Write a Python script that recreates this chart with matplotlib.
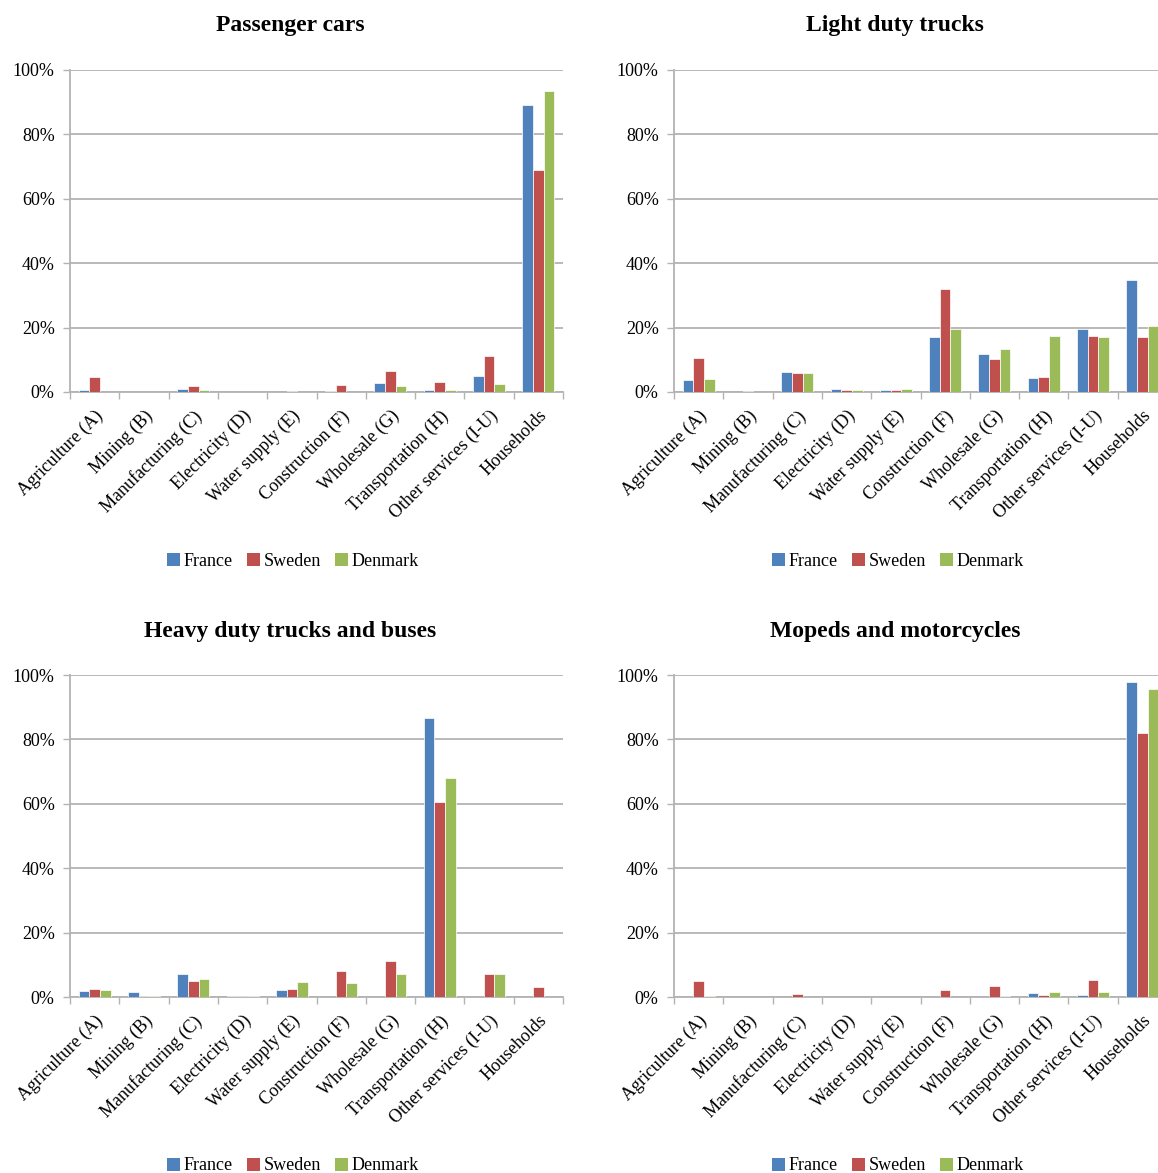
import matplotlib
matplotlib.use("Agg")
import matplotlib.pyplot as plt
import numpy as np
from matplotlib.patches import Patch

plt.rcParams['font.family'] = ['Liberation Serif', 'DejaVu Serif']

categories = ["Agriculture (A)", "Mining (B)", "Manufacturing (C)", "Electricity (D)",
              "Water supply (E)", "Construction (F)", "Wholesale (G)",
              "Transportation (H)", "Other services (I-U)", "Households"]
series = ["France", "Sweden", "Denmark"]
colors = ["#4F81BD", "#C0504D", "#9BBB59"]

titles = ["Passenger cars", "Light duty trucks", "Heavy duty trucks and buses", "Mopeds and motorcycles"]

# values in percent
passenger_france = [0.5, 0.0, 0.9, 0.0, 0.0, 0.2, 2.9, 0.5, 4.9, 89.1]
passenger_sweden = [4.8, 0.0, 2.0, 0.0, 0.2, 2.1, 6.4, 3.1, 11.3, 68.9]
passenger_denmark = [0.0, 0.0, 0.5, 0.0, 0.0, 0.1, 2.0, 0.7, 2.4, 93.5]

light_france = [3.6, 0.0, 6.3, 0.9, 0.6, 17.1, 11.7, 4.5, 19.6, 34.9]
light_sweden = [10.6, 0.2, 6.0, 0.6, 0.6, 32.0, 10.2, 4.7, 17.4, 17.1]
light_denmark = [4.0, 0.0, 6.0, 0.5, 0.9, 19.5, 13.3, 17.3, 17.1, 20.6]

heavy_france = [1.9, 1.7, 7.2, 0.2, 2.3, 0.0, 0.1, 86.6, 0.0, 0.0]
heavy_sweden = [2.6, 0.2, 4.9, 0.2, 2.5, 8.0, 11.1, 60.6, 7.0, 3.0]
heavy_denmark = [2.2, 0.2, 5.7, 0.3, 4.8, 4.3, 7.1, 68.0, 7.2, 0.0]

moped_france = [0.0, 0.0, 0.0, 0.0, 0.0, 0.0, 0.0, 1.1, 0.7, 97.8]
moped_sweden = [5.1, 0.1, 0.8, 0.0, 0.1, 2.3, 3.4, 0.5, 5.2, 82.0]
moped_denmark = [0.2, 0.0, 0.1, 0.0, 0.0, 0.0, 0.2, 1.6, 1.7, 95.7]

panels = [
    [passenger_france, passenger_sweden, passenger_denmark],
    [light_france, light_sweden, light_denmark],
    [heavy_france, heavy_sweden, heavy_denmark],
    [moped_france, moped_sweden, moped_denmark],
]

W, H = 1158, 1173
fig = plt.figure(figsize=(W / 100, H / 100), dpi=100)

# axes pixel boxes: (left, top, right, bottom)
boxes = [(70, 70, 563, 392), (674, 70, 1167, 392),
         (70, 675, 563, 997), (674, 675, 1167, 997)]
title_pos = [(290, 26), (895, 26), (290, 631), (895, 631)]
legend_pos = [(293, 561), (898, 561), (293, 1166), (898, 1166)]

grid_col = "#B3B3B3"
bw = 0.217
x = np.arange(len(categories))

for i, (box, data) in enumerate(zip(boxes, panels)):
    l, t, r, b = box
    ax = fig.add_axes([l / W, 1 - b / H, (r - l) / W, (b - t) / H])
    for j, (vals, c) in enumerate(zip(data, colors)):
        ax.bar(x + (j - 1) * bw, vals, width=bw, color=c, edgecolor="white",
               linewidth=0.5, zorder=3)
    ax.set_xlim(-0.5, len(categories) - 0.5)
    ax.set_ylim(0, 100)
    ax.set_yticks(np.arange(0, 101, 20))
    ax.set_yticklabels([f"{v}%" for v in range(0, 101, 20)], fontsize=13)
    ax.yaxis.grid(True, color=grid_col, linewidth=1.3, zorder=0)
    ax.set_axisbelow(True)
    for s in ["top", "right"]:
        ax.spines[s].set_visible(False)
    for s in ["left", "bottom"]:
        ax.spines[s].set_color(grid_col)
        ax.spines[s].set_linewidth(1.3)
    ax.tick_params(axis="y", length=5, width=1.0, color=grid_col, pad=6)
    ax.set_xticks(x)
    ax.set_xticklabels(categories, rotation=45, ha="right", va="top",
                       rotation_mode="anchor", fontsize=13)
    ax.tick_params(axis="x", which="major", length=0, pad=11)
    ax.set_xticks(np.arange(-0.5, len(categories), 1.0), minor=True)
    ax.tick_params(axis="x", which="minor", length=5, width=1.0, color=grid_col)

    tx, ty = title_pos[i]
    fig.text(tx / W, 1 - ty / H, titles[i], ha="center", va="center",
             fontsize=17, fontweight="bold")

    handles = [Patch(facecolor=c, edgecolor="none") for c in colors]
    lx, ly = legend_pos[i]
    fig.legend(handles, series, loc="center", bbox_to_anchor=(lx / W, 1 - ly / H),
               ncol=3, frameon=False, fontsize=13, handlelength=0.7,
               handleheight=0.7, handletextpad=0.2, columnspacing=0.8)

fig.savefig("out.png", dpi=100)
